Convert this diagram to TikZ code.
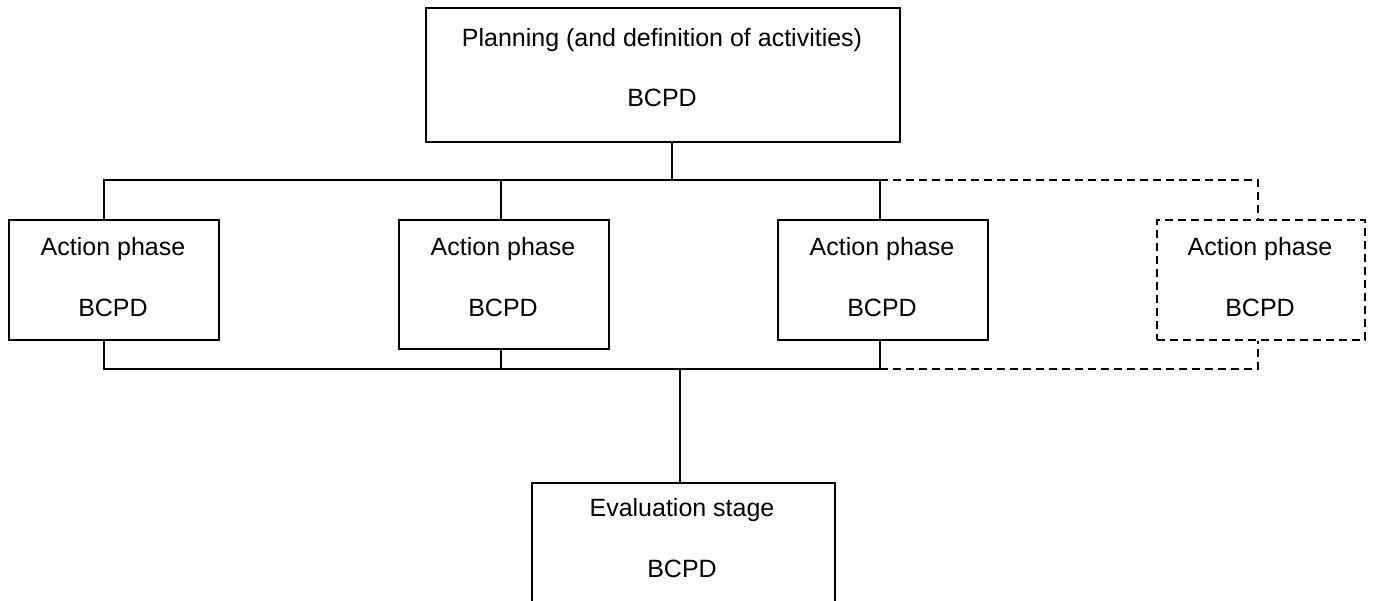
\documentclass[tikz,border=0pt]{standalone}
\usepackage{fontspec}
\setmainfont{Liberation Sans}
\begin{document}
\begin{tikzpicture}[x=1pt, y=-1pt, line width=1.6pt,
  font=\fontsize{25}{30}\selectfont,
  stage/.style={draw, inner sep=0pt, anchor=north west},
  actbox/.style={stage, minimum width=210pt, minimum height=120pt},
  maybe/.style={dash pattern=on 8pt off 5pt}]
  \useasboundingbox (0,0) rectangle (1376,600);
  \clip (0,0) rectangle (1376,600);

  % planning
  \node[stage, minimum width=474pt, minimum height=134pt] (plan) at (425,7) {};
  \node[anchor=base] (plan1) at (662,46) {Planning (and definition of activities)};
  \node[anchor=base] (plan2) at (662,106) {BCPD};

  % action phases (the last one is optional)
  \node[actbox] (act1) at (8,219) {};
  \node[actbox, minimum height=129pt] (act2) at (398,219) {};
  \node[actbox] (act3) at (777,219) {};
  \node[actbox, maybe, minimum width=208pt] (act4) at (1156,219) {};
  \node[anchor=base] (act1a) at (113,255) {Action phase};
  \node[anchor=base] (act1b) at (113,316) {BCPD};
  \node[anchor=base] (act2a) at (503,255) {Action phase};
  \node[anchor=base] (act2b) at (503,316) {BCPD};
  \node[anchor=base] (act3a) at (882,255) {Action phase};
  \node[anchor=base] (act3b) at (882,316) {BCPD};
  \node[anchor=base] (act4a) at (1260,255) {Action phase};
  \node[anchor=base] (act4b) at (1260,316) {BCPD};

  % evaluation
  \node[stage, minimum width=303pt, minimum height=140pt] (eval) at (531,482) {};
  \node[anchor=base] (eval1) at (682,516) {Evaluation stage};
  \node[anchor=base] (eval2) at (682,577) {BCPD};

  % upper bus
  \coordinate (upm) at (672,180);
  \coordinate (up1) at (104,180);
  \coordinate (up2) at (501,180);
  \coordinate (up3) at (880,180);
  \coordinate (up4) at (1258,180);
  \draw (upm |- plan.south) -- (upm);
  \draw (act1.north -| up1) -- (up1) -- (up3) -- (act3.north -| up3);
  \draw (up2) -- (act2.north -| up2);
  \draw[maybe] (up3) -- (up4) -- (act4.north -| up4);

  % lower bus
  \coordinate (lom) at (680,369);
  \coordinate (lo1) at (104,369);
  \coordinate (lo2) at (501,369);
  \coordinate (lo3) at (880,369);
  \coordinate (lo4) at (1258,369);
  \draw (act1.south -| lo1) -- (lo1) -- (lo3) -- (act3.south -| lo3);
  \draw (act2.south -| lo2) -- (lo2);
  \draw[maybe] (lo3) -- (lo4) -- (act4.south -| lo4);
  \draw (lom) -- (eval.north -| lom);
\end{tikzpicture}
\end{document}
